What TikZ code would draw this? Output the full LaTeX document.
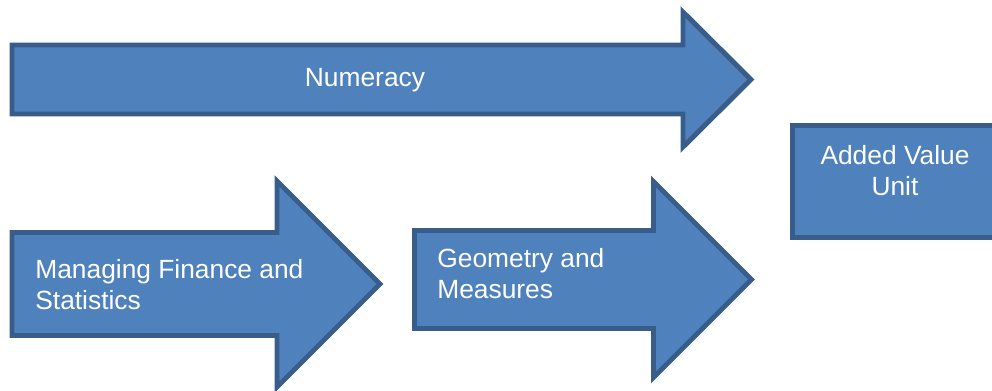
\documentclass[tikz,border=0pt]{standalone}
\usepackage{fontspec}
\setmainfont{Liberation Sans}
\usepackage{tikz}
\usetikzlibrary{positioning}
\definecolor{fillblue}{HTML}{4F81BD}
\definecolor{lineblue}{HTML}{385D8A}

\begin{document}
\begin{tikzpicture}[x=0.02cm, y=-0.02cm]
		\tikzset{block/.style={fill=fillblue, draw=lineblue, line width=2.8pt, line join=miter}}
		\tikzset{lbl/.style={text=white, inner sep=0, font=\fontsize{15}{17.6}\selectfont}}
		\useasboundingbox (0,0) rectangle (992,390);
		% arrows
		\draw[block] (12,45) -- (683,45) -- (683,12) -- (751,79.5) -- (683,147) -- (683,114) -- (12,114) -- cycle;
		\draw[block] (12,232.5) -- (277,232.5) -- (277,181) -- (380,284) -- (277,387) -- (277,335.5) -- (12,335.5) -- cycle;
		\draw[block] (414.5,230.5) -- (653.5,230.5) -- (653.5,181.5) -- (751.5,279.5) -- (653.5,377.5) -- (653.5,328.5) -- (414.5,328.5) -- cycle;
		% box
		\draw[block] (792.5,125.5) rectangle (1000,237.5);
		\node[lbl] at (365,80) (num) {Numeracy};
		\node[lbl, anchor=west, align=left] at (35,285) (fin) {Managing Finance and\\Statistics};
		\node[lbl, anchor=west, align=left] at (437,274) (geo) {Geometry and\\Measures};
		\node[lbl, align=center] at (895,171) (unit) {Added Value\\Unit};
	\end{tikzpicture}
\end{document}
